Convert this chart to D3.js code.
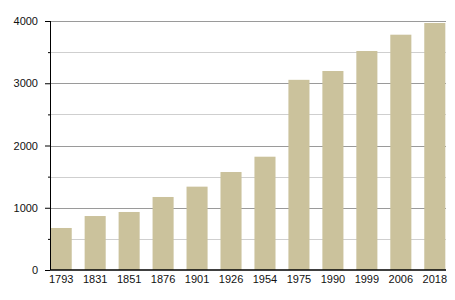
<!DOCTYPE html>
<html>
<head>
<meta charset="utf-8">
<script src="https://cdn.jsdelivr.net/npm/d3@7"></script>
<style>
  body { margin: 0; background: #fff; }
  text { font-family: "Liberation Sans", Arial, sans-serif; }
</style>
</head>
<body>
<div id="chart-area"></div>
<script>
const years = ["1793", "1831", "1851", "1876", "1901", "1926", "1954", "1975", "1990", "1999", "2006", "2018"];
const values = [675, 867, 932, 1173, 1339, 1574, 1820, 3055, 3197, 3518, 3780, 3968];
const yTicks = [0, 1000, 2000, 3000, 4000];
const yMinor = [500, 1500, 2500, 3500];

const margin = { left: 50, right: 9, top: 21, bottom: 30 };
const width = 455 - margin.left - margin.right,
    height = 300 - margin.top - margin.bottom;

const svg = d3.select("#chart-area")
    .append("svg")
    .attr("width", 455)
    .attr("height", 300);

const g = svg.append("g")
    .attr("transform", "translate(" + margin.left + ", " + margin.top + ")");

const y = d3.scaleLinear()
    .domain([0, 4000])
    .range([height, 0]);

const x = d3.scaleBand()
    .domain(years)
    .range([0, width])
    .paddingInner(0.38)
    .paddingOuter(0.02);

// gridlines
g.selectAll(".minor-grid")
    .data(yMinor)
    .enter()
    .append("line")
        .attr("x1", 0)
        .attr("x2", width)
        .attr("y1", d => Math.round(y(d)) + 0.5)
        .attr("y2", d => Math.round(y(d)) + 0.5)
        .attr("stroke", "#cfcfcf");

g.selectAll(".major-grid")
    .data(yTicks.filter(d => d > 0))
    .enter()
    .append("line")
        .attr("x1", 0)
        .attr("x2", width)
        .attr("y1", d => Math.round(y(d)) + 0.5)
        .attr("y2", d => Math.round(y(d)) + 0.5)
        .attr("stroke", "#9a9a9a");

// bars
g.selectAll("rect")
    .data(values)
    .enter()
    .append("rect")
        .attr("x", (d, i) => x(years[i]))
        .attr("y", d => y(d))
        .attr("width", x.bandwidth())
        .attr("height", d => height - y(d))
        .attr("fill", "#cbc29c");

// y axis
const yAxisCall = d3.axisLeft(y)
    .tickValues(yTicks)
    .tickSize(5)
    .tickPadding(7)
    .tickFormat(d => d);
const yAxis = g.append("g")
    .attr("class", "y-axis")
    .call(yAxisCall);
yAxis.select(".domain").attr("stroke", "#000").attr("d", "M0.5," + height + "V0");
yAxis.selectAll("text").attr("font-size", "11px").attr("fill", "#111");

g.append("g")
    .call(d3.axisLeft(y).tickValues(yMinor).tickSize(2).tickFormat(""))
    .select(".domain").remove();

// x axis
const xAxisCall = d3.axisBottom(x).tickSize(0).tickPadding(5);
const xAxis = g.append("g")
    .attr("class", "x-axis")
    .attr("transform", "translate(0, " + height + ")")
    .call(xAxisCall);
xAxis.select(".domain").attr("stroke", "#000").attr("stroke-width", 1.5).attr("d", "M0,0H" + width);
xAxis.selectAll("text").attr("font-size", "11px").attr("fill", "#111");
</script>
</body>
</html>
